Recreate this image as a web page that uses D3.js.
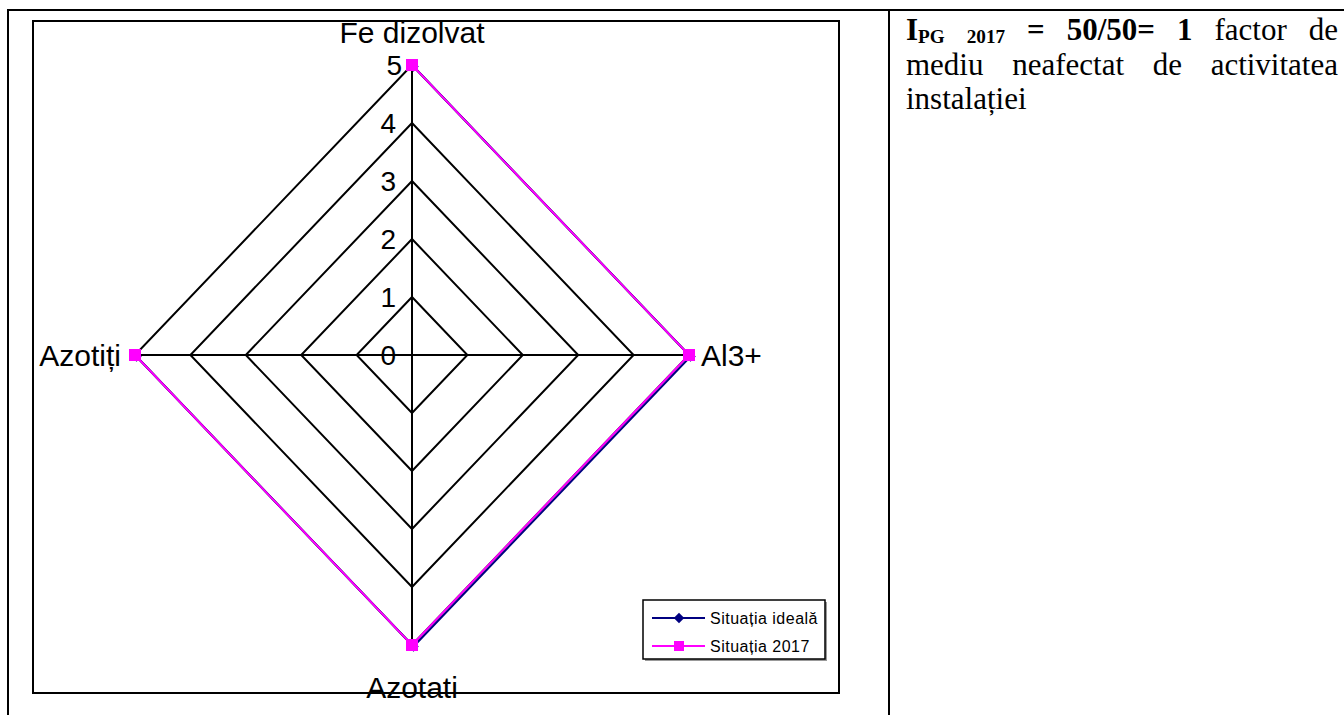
<!DOCTYPE html>
<html>
<head>
<meta charset="utf-8">
<script src="https://cdn.jsdelivr.net/npm/d3@7"></script>
<style>
  html, body { margin: 0; padding: 0; background: #fff; }
  svg { display: block; }
</style>
</head>
<body>
<svg id="chart" width="1344" height="715"></svg>
<script>
// ---- data ----
const categories = ["Fe dizolvat", "Al3+", "Azotati", "Azotiți"];
const seriesNames = ["Situația ideală", "Situația 2017"];
const idealValues = [5, 5, 5, 5];
const values2017 = [5, 5, 5, 5];
const tickValues = [0, 1, 2, 3, 4, 5];
const maxValue = 5;

const svg = d3.select("#chart");

// ---- table frame ----
svg.append("line").attr("x1", 8).attr("x2", 1344).attr("y1", 10).attr("y2", 10)
  .attr("stroke", "#000").attr("stroke-width", 2);
svg.append("line").attr("x1", 8).attr("x2", 8).attr("y1", 9).attr("y2", 715)
  .attr("stroke", "#000").attr("stroke-width", 2);
svg.append("line").attr("x1", 889).attr("x2", 889).attr("y1", 9).attr("y2", 715)
  .attr("stroke", "#000").attr("stroke-width", 2);

// ---- chart border ----
svg.append("rect").attr("x", 33).attr("y", 21).attr("width", 806).attr("height", 672)
  .attr("fill", "#fff").attr("stroke", "#000").attr("stroke-width", 2);

// ---- radar ----
const cx = 412, cy = 355, rx = 277, ry = 290;
const rScale = d3.scaleLinear().domain([0, maxValue]).range([0, 1]);
const angle = d3.scalePoint().domain(categories).range([0, 2 * Math.PI * (categories.length - 1) / categories.length]);
const px = (c, v) => cx + Math.sin(angle(c)) * rx * rScale(v);
const py = (c, v) => cy - Math.cos(angle(c)) * ry * rScale(v);

const g = svg.append("g");

// grid rings
tickValues.filter(t => t > 0).forEach(t => {
  g.append("path")
    .attr("d", d3.line().x(c => px(c, t)).y(c => py(c, t))(categories.concat([categories[0]])))
    .attr("fill", "none").attr("stroke", "#000").attr("stroke-width", 2);
});
// spokes
categories.forEach(c => {
  g.append("line").attr("x1", cx).attr("y1", cy)
    .attr("x2", px(c, maxValue)).attr("y2", py(c, maxValue))
    .attr("stroke", "#000").attr("stroke-width", 2);
});

// tick labels
tickValues.forEach(t => {
  g.append("text")
    .attr("x", px(categories[0], t) - (t === maxValue ? 10 : 16))
    .attr("y", py(categories[0], t))
    .attr("dy", "0.36em")
    .attr("text-anchor", "end")
    .attr("font-family", "Liberation Sans, Arial, sans-serif")
    .attr("font-size", 28)
    .text(t);
});

// category labels
const labelPos = {
  "Fe dizolvat": { dx: 0, dy: -33, anchor: "middle" },
  "Al3+": { dx: 12, dy: 0, anchor: "start" },
  "Azotati": { dx: 0, dy: 42, anchor: "middle" },
  "Azotiți": { dx: -14, dy: 0, anchor: "end" }
};
categories.forEach(c => {
  const p = labelPos[c];
  g.append("text")
    .attr("x", px(c, maxValue) + p.dx)
    .attr("y", py(c, maxValue) + p.dy)
    .attr("dy", "0.36em")
    .attr("text-anchor", p.anchor)
    .attr("font-family", "Liberation Sans, Arial, sans-serif")
    .attr("font-size", 30)
    .text(c);
});

// series
const lineGen = d3.line().x((d, i) => px(categories[i], d)).y((d, i) => py(categories[i], d));
const closed = arr => arr.concat([arr[0]]);

const gIdeal = g.append("g").attr("transform", "translate(1.5,1.5)");
gIdeal.append("path").attr("d", lineGen(closed(idealValues)))
  .attr("fill", "none").attr("stroke", "#000080").attr("stroke-width", 2);
gIdeal.selectAll("path.m").data(idealValues).enter().append("path")
  .attr("class", "m")
  .attr("d", d3.symbol().type(d3.symbolDiamond2).size(70))
  .attr("transform", (d, i) => `translate(${px(categories[i], d)},${py(categories[i], d)})`)
  .attr("fill", "#000080");

const g2017 = g.append("g");
g2017.append("path").attr("d", lineGen(closed(values2017)))
  .attr("fill", "none").attr("stroke", "#FF00FF").attr("stroke-width", 2);
g2017.selectAll("rect.m").data(values2017).enter().append("rect")
  .attr("class", "m")
  .attr("x", (d, i) => px(categories[i], d) - 6)
  .attr("y", (d, i) => py(categories[i], d) - 6)
  .attr("width", 12).attr("height", 12)
  .attr("fill", "#FF00FF");

// ---- legend ----
const lg = svg.append("g");
lg.append("rect").attr("x", 645).attr("y", 602).attr("width", 182).attr("height", 59).attr("fill", "#999");
lg.append("rect").attr("x", 643).attr("y", 600).attr("width", 182).attr("height", 59)
  .attr("fill", "#fff").attr("stroke", "#000").attr("stroke-width", 1.5);
const legendRows = [
  { name: seriesNames[0], color: "#000080", marker: "diamond", y: 618 },
  { name: seriesNames[1], color: "#FF00FF", marker: "square", y: 646 }
];
legendRows.forEach(r => {
  lg.append("line").attr("x1", 652).attr("x2", 705).attr("y1", r.y).attr("y2", r.y)
    .attr("stroke", r.color).attr("stroke-width", 2);
  if (r.marker === "diamond") {
    lg.append("path").attr("d", d3.symbol().type(d3.symbolDiamond2).size(70))
      .attr("transform", `translate(679,${r.y})`).attr("fill", r.color);
  } else {
    lg.append("rect").attr("x", 674).attr("y", r.y - 5).attr("width", 10).attr("height", 10)
      .attr("fill", r.color);
  }
  lg.append("text").attr("x", 710).attr("y", r.y).attr("dy", "0.36em")
    .attr("font-family", "Liberation Sans, Arial, sans-serif")
    .attr("font-size", 16).attr("letter-spacing", 0.5)
    .text(r.name);
});

// ---- right text cell (justified) ----
const textLeft = 906, textRight = 1338;
const serif = "Liberation Serif, Times New Roman, serif";
const fs = 31;
const textLines = [
  { y: 40, justify: true, words: [
    [{ t: "I", b: true }, { t: "PG", b: true, sub: true }],
    [{ t: "2017", b: true, sub: true }],
    [{ t: "=", b: true }],
    [{ t: "50/50=", b: true }],
    [{ t: "1", b: true }],
    [{ t: "factor" }],
    [{ t: "de" }]
  ]},
  { y: 75, justify: true, words: [
    [{ t: "mediu" }], [{ t: "neafectat" }], [{ t: "de" }], [{ t: "activitatea" }]
  ]},
  { y: 109, justify: false, words: [
    [{ t: "instalației" }]
  ]}
];
const tg = svg.append("g");
textLines.forEach(line => {
  const nodes = line.words.map(w => {
    const t = tg.append("text").attr("y", line.y)
      .attr("font-family", serif).attr("font-size", fs);
    w.forEach(seg => {
      const ts = t.append("tspan").text(seg.t);
      if (seg.b) ts.attr("font-weight", "bold");
      if (seg.sub) ts.attr("font-size", fs * 0.62).attr("baseline-shift", "-3");
    });
    return t;
  });
  const widths = nodes.map(n => n.node().getComputedTextLength());
  const total = d3.sum(widths);
  const gap = line.justify && nodes.length > 1 ? (textRight - textLeft - total) / (nodes.length - 1) : fs * 0.25;
  let x = textLeft;
  nodes.forEach((n, i) => { n.attr("x", x); x += widths[i] + gap; });
});
</script>
</body>
</html>
